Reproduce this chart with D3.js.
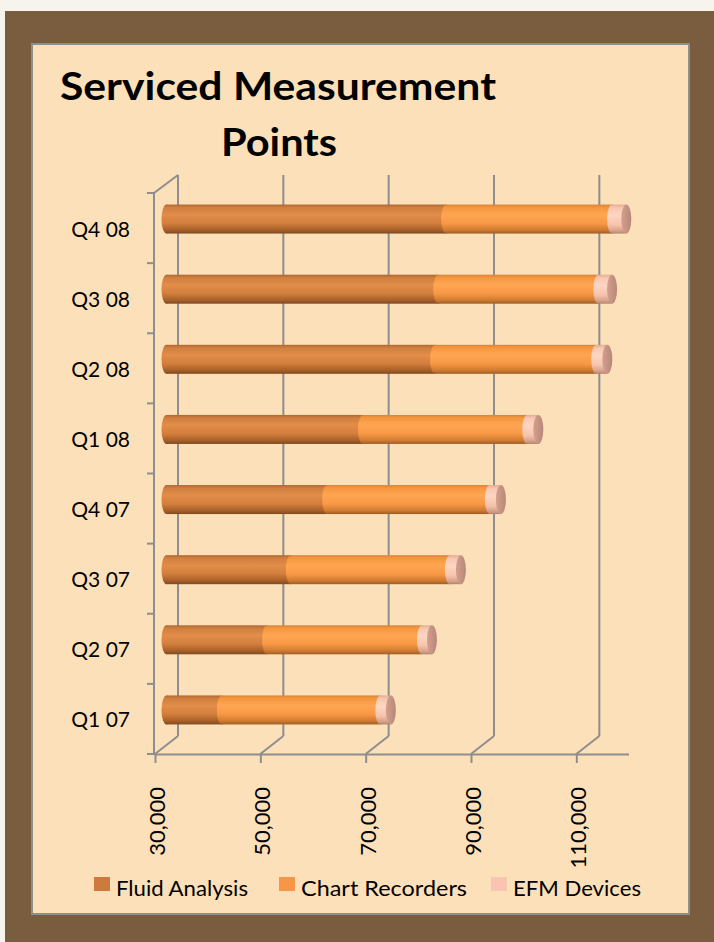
<!DOCTYPE html>
<html>
<head>
<meta charset="utf-8">
<script src="https://cdn.jsdelivr.net/npm/d3@7/dist/d3.min.js"></script>
<style>
  html, body { margin: 0; padding: 0; background: #f7f4ee; }
  svg { display: block; }
</style>
</head>
<body>
<svg id="chart" width="714" height="942"></svg>
<script>
// ---- data ----
const categories = ["Q1 07", "Q2 07", "Q3 07", "Q4 07", "Q1 08", "Q2 08", "Q3 08", "Q4 08"];
const seriesNames = ["Fluid Analysis", "Chart Recorders", "EFM Devices"];
const fluidAnalysis = [40500, 49100, 53600, 60500, 67300, 81000, 81600, 83100];
const chartRecorders = [30100, 29400, 30200, 30900, 31200, 30600, 30400, 31500];
const efmDevices = [2000, 1900, 2100, 2100, 2100, 2100, 2600, 2700];
const xTickValues = [30000, 50000, 70000, 90000, 110000];
const titleLines = ["Serviced Measurement", "Points"];

const seriesColors = ["#cc7b3c", "#f79646", "#f9c5b0"];

// ---- layout ----
const svg = d3.select("#chart");
const W = 714, H = 942;
const FONT = "Lato, 'Open Sans', sans-serif";

// background frame
svg.append("rect").attr("x", 5).attr("y", 11).attr("width", W - 5).attr("height", H - 11).attr("fill", "#7a5c3e");
svg.append("rect").attr("x", 32).attr("y", 44).attr("width", 657).attr("height", 870)
  .attr("fill", "#fbe0b9").attr("stroke", "#8e8e8e").attr("stroke-width", 2);

// title
const title = svg.append("g").attr("font-family", FONT).attr("font-weight", 700).attr("fill", "#000");
title.append("text").attr("x", 278).attr("y", 100).attr("text-anchor", "middle").attr("font-size", 39)
  .attr("textLength", 436).attr("lengthAdjust", "spacingAndGlyphs").text(titleLines[0]);
title.append("text").attr("x", 279).attr("y", 156).attr("text-anchor", "middle").attr("font-size", 39)
  .attr("textLength", 116).attr("lengthAdjust", "spacingAndGlyphs").text(titleLines[1]);

// scales
const depthX = 23, depthY = -18;
const xFront = d3.scaleLinear().domain([30000, 120000]).range([155, 629]);
const yFront = d3.scaleBand().domain(categories.slice().reverse()).range([193, 754]).padding(0);
const bw = yFront.bandwidth();
const barH = 29;
const xMid = v => xFront(v) + depthX / 2;
const yMid = c => yFront(c) + bw / 2 + depthY / 2;

const gridColor = "#8e8e8e";
const grid = svg.append("g").attr("stroke", gridColor).attr("stroke-width", 2).attr("fill", "none");
const yTop = 193, yBot = 754;
// back-wall vertical gridlines
xTickValues.forEach(v => {
  grid.append("line").attr("x1", xFront(v) + depthX).attr("x2", xFront(v) + depthX)
    .attr("y1", yTop + depthY).attr("y2", yBot + depthY);
  // floor diagonals
  grid.append("line").attr("x1", xFront(v)).attr("y1", yBot)
    .attr("x2", xFront(v) + depthX).attr("y2", yBot + depthY);
});
// top-left diagonal
const xLeft = xFront(30000) - 1;
grid.append("line").attr("x1", xLeft).attr("y1", yTop).attr("x2", xFront(30000) + depthX).attr("y2", yTop + depthY);

// left vertical axis with boundary ticks
grid.append("line").attr("x1", xLeft).attr("x2", xLeft).attr("y1", yTop).attr("y2", yBot);
const boundaries = yFront.domain().map(c => yFront(c)).concat([yBot]);
boundaries.forEach(y => {
  grid.append("line").attr("x1", xLeft - 7).attr("x2", xLeft).attr("y1", y).attr("y2", y);
});

// category labels
const yAxis = d3.axisLeft(yFront).tickSize(0).tickPadding(0);
const yAxisG = svg.append("g").attr("transform", `translate(${130},0)`).call(yAxis);
yAxisG.select(".domain").remove();
yAxisG.selectAll("text").attr("font-family", FONT).attr("font-size", 21).attr("fill", "#000")
  .attr("dy", null).attr("y", 8.5).attr("x", 0);

// x axis (front floor edge)
const xAxis = d3.axisBottom(xFront).tickValues(xTickValues).tickFormat(d3.format(",")).tickSize(9).tickSizeOuter(0);
const xAxisG = svg.append("g").attr("transform", `translate(0,${yBot})`).call(xAxis);
xAxisG.select(".domain").attr("stroke", gridColor).attr("stroke-width", 2)
  .attr("d", `M${xLeft},0.5H${xFront(120000)}`);
xAxisG.selectAll(".tick line").attr("stroke", gridColor).attr("stroke-width", 2);
xAxisG.selectAll(".tick text")
  .attr("font-family", FONT).attr("font-size", 22).attr("fill", "#000")
  .attr("text-anchor", "end").attr("dy", null)
  .attr("transform", "rotate(-90)")
  .attr("x", -(787 - yBot)).attr("y", 9.5);

// gradients
const defs = svg.append("defs");
function cylGrad(id, stops) {
  const g = defs.append("linearGradient").attr("id", id).attr("x1", 0).attr("y1", 0).attr("x2", 0).attr("y2", 1);
  stops.forEach(s => g.append("stop").attr("offset", s[0]).attr("stop-color", s[1]));
}
cylGrad("g0", [[0, "#b06630"], [0.1, "#cf7f3f"], [0.35, "#e28d49"], [0.65, "#d27e3d"], [0.88, "#a85f28"], [1, "#7e4a22"]]);
cylGrad("g1", [[0, "#d88338"], [0.1, "#f5963f"], [0.35, "#ffa653"], [0.65, "#f89845"], [0.88, "#cf7b31"], [1, "#9e5d24"]]);
cylGrad("g2", [[0, "#e2ad95"], [0.12, "#f8c8b2"], [0.38, "#fdd6c3"], [0.7, "#f6c3ac"], [0.9, "#d7a28c"], [1, "#b2826f"]]);
const capGrad = defs.append("linearGradient").attr("id", "cap").attr("x1", 0).attr("y1", 0).attr("x2", 1).attr("y2", 0);
capGrad.append("stop").attr("offset", 0).attr("stop-color", "#d4a08c");
capGrad.append("stop").attr("offset", 1).attr("stop-color", "#b8877a");

const rx = 5;
const series = [fluidAnalysis, chartRecorders, efmDevices];
const bars = svg.append("g");
categories.forEach((c, i) => {
  const cy = yMid(c);
  let start = 30000;
  series.forEach((arr, s) => {
    const base = s === 0 ? 0 : series.slice(0, s).reduce((a, b) => a + b[i], 0);
    const v0 = s === 0 ? 30000 : base;
    const v1 = base + arr[i];
    const x0 = xMid(v0), x1 = xMid(v1);
    bars.append("ellipse").attr("cx", x0).attr("cy", cy).attr("rx", rx).attr("ry", barH / 2).attr("fill", `url(#g${s})`);
    bars.append("rect").attr("x", x0).attr("y", cy - barH / 2).attr("width", x1 - x0).attr("height", barH).attr("fill", `url(#g${s})`);
  });
  const total = fluidAnalysis[i] + chartRecorders[i] + efmDevices[i];
  bars.append("ellipse").attr("cx", xMid(total)).attr("cy", cy).attr("rx", rx).attr("ry", barH / 2).attr("fill", "url(#cap)");
});

// legend
const legend = svg.append("g").attr("font-family", FONT).attr("font-size", 22).attr("fill", "#000");
const legendX = [94, 279, 491];
const legendTextW = [132, 166, 128];
seriesNames.forEach((n, s) => {
  legend.append("rect").attr("x", legendX[s]).attr("y", 877).attr("width", 16).attr("height", 14).attr("fill", seriesColors[s]);
  legend.append("text").attr("x", legendX[s] + 22).attr("y", 896)
    .attr("textLength", legendTextW[s]).attr("lengthAdjust", "spacingAndGlyphs").text(n);
});
</script>
</body>
</html>
